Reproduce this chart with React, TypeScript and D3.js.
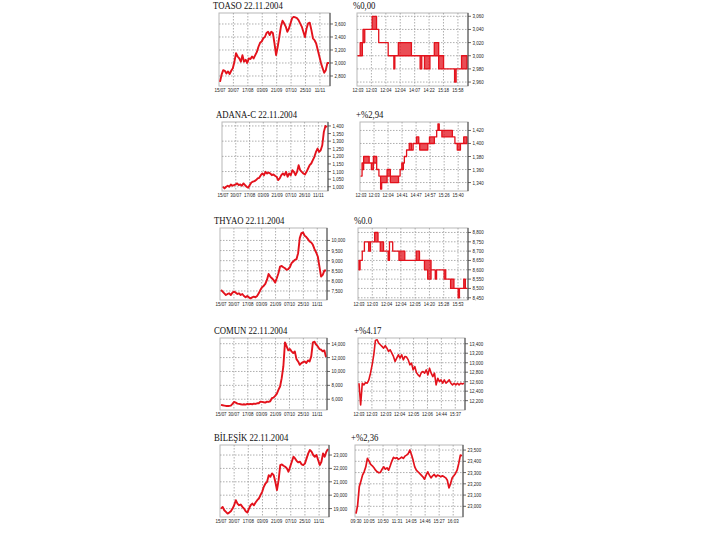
import React from 'react';
import * as d3 from 'd3';

// ---------- labels ----------
const dailyLabels = ['15/07', '30/07', '17/08', '03/09', '21/09', '07/10', '25/10', '11/11'];
const adanaDailyLabels = ['15/07', '30/07', '17/08', '03/09', '21/09', '07/10', '26/10', '11/11'];

// ---------- TOASO ----------
const toasoTitle = 'TOASO 22.11.2004';
const toasoChange = '%0,00';
const toasoDaily = [2710, 2820, 2890, 2880, 2840, 2870, 2830, 2880, 2920, 3020, 3150, 3100, 3070, 3020, 3120, 3020, 3050, 3000, 3070, 3060, 3100, 3070, 3120, 3170, 3250, 3310, 3330, 3380, 3400, 3460, 3480, 3430, 3480, 3460, 3300, 3120, 3250, 3400, 3560, 3650, 3610, 3560, 3480, 3530, 3610, 3690, 3710, 3700, 3690, 3660, 3610, 3560, 3480, 3400, 3530, 3610, 3620, 3510, 3380, 3350, 3300, 3200, 3100, 3000, 2920, 2850, 2890, 3000, 3000];
const toasoDailyTicks = [2800, 3000, 3200, 3400, 3600];
const toasoTimes = ['12:03', '12:03', '12:04', '12:04', '14:07', '14:22', '15:18', '15:58'];
const toasoT = [0, 2, 4, 4.6, 6.2, 13, 17, 19, 27.7, 32.9, 33.8, 37, 49, 57, 58.5, 61, 66, 70, 74, 78.5, 88.6, 90, 95, 100];
const toasoLo = [3000, 3000, 3020, 3020, 3040, 3040, 3040, 3020, 3000, 2980, 3000, 3000, 3000, 2980, 3000, 2980, 3000, 3000, 2980, 2980, 2960, 2980, 2980, 2980];
const toasoHi = [3000, 3020, 3020, 3040, 3040, 3060, 3040, 3020, 3000, 3000, 3000, 3020, 3000, 3000, 3000, 3000, 3000, 3020, 3000, 2980, 2980, 2980, 3000, 3000];
const toasoIntraTicks = [2960, 2980, 3000, 3020, 3040, 3060];

// ---------- ADANA-C ----------
const adanaTitle = 'ADANA-C 22.11.2004';
const adanaChange = '+%2,94';
const adanaDaily = [1000, 989, 1000, 1007, 1000, 1015, 1007, 1011, 1015, 1022, 1011, 1015, 1007, 1022, 1011, 1000, 993, 1011, 1028, 1033, 1037, 1044, 1055, 1059, 1076, 1087, 1076, 1098, 1087, 1094, 1087, 1076, 1081, 1072, 1066, 1044, 1055, 1076, 1087, 1076, 1098, 1066, 1087, 1076, 1109, 1098, 1076, 1098, 1142, 1109, 1098, 1087, 1081, 1098, 1120, 1142, 1153, 1175, 1197, 1229, 1251, 1229, 1240, 1273, 1361, 1400, 1393];
const adanaDailyTicks = [1000, 1050, 1100, 1150, 1200, 1250, 1300, 1350, 1400];
const adanaDailyGrid = [1000, 1100, 1200, 1300, 1400];
const adanaTimes = ['12:03', '12:03', '12:04', '14:41', '14:47', '14:57', '15:26', '15:40'];
const adanaT = [0, 1, 2.5, 7.7, 9.8, 11.7, 14.8, 16.9, 18.5, 19.5, 24.6, 27.7, 35.4, 36.9, 38.5, 40, 40.9, 43, 45.5, 47.7, 49.2, 52.3, 54.5, 55.4, 63, 64.6, 69.2, 71.4, 72.6, 73.8, 76.3, 86.2, 88.6, 90.8, 93.8, 96.9, 100];
const adanaLo = [1350, 1360, 1370, 1370, 1360, 1370, 1360, 1350, 1330, 1340, 1350, 1340, 1350, 1360, 1360, 1370, 1380, 1390, 1390, 1390, 1400, 1400, 1400, 1390, 1400, 1400, 1410, 1420, 1420, 1420, 1410, 1410, 1400, 1390, 1400, 1400, 1400];
const adanaHi = [1350, 1370, 1380, 1370, 1370, 1380, 1360, 1350, 1350, 1350, 1360, 1350, 1350, 1360, 1370, 1370, 1380, 1390, 1400, 1390, 1400, 1410, 1400, 1400, 1400, 1410, 1410, 1420, 1430, 1420, 1420, 1410, 1400, 1400, 1400, 1410, 1410];
const adanaIntraTicks = [1340, 1360, 1380, 1400, 1420];

// ---------- THYAO ----------
const thyaoTitle = 'THYAO 22.11.2004';
const thyaoChange = '%0.0';
const thyaoDaily = [7549, 7466, 7384, 7301, 7350, 7384, 7301, 7417, 7466, 7417, 7350, 7384, 7301, 7350, 7251, 7185, 7251, 7185, 7135, 7185, 7218, 7185, 7251, 7384, 7549, 7682, 7748, 7847, 8046, 8344, 8212, 8129, 8046, 7913, 8129, 8377, 8708, 8741, 8675, 8626, 8543, 8576, 8675, 8874, 8957, 9040, 9073, 9371, 10116, 10364, 10397, 10232, 10166, 10066, 9950, 9901, 9785, 9569, 9404, 9205, 8708, 8212, 8294, 8510, 8510];
const thyaoDailyTicks = [7500, 8000, 8500, 9000, 9500, 10000];
const thyaoTimes = ['12:03', '12:03', '12:04', '12:04', '12:05', '14:20', '15:28', '15:53'];
const thyaoT = [0, 1, 3, 5, 9, 10.6, 14.5, 17.6, 19.7, 22.7, 27, 28.2, 31.2, 37, 42.4, 53, 56, 60.6, 63.6, 66.7, 70.6, 71.8, 78.8, 80.3, 84.8, 87.9, 91.8, 93, 97, 98.5, 100];
const thyaoLo = [8600, 8650, 8700, 8750, 8700, 8750, 8750, 8750, 8700, 8700, 8650, 8750, 8700, 8650, 8650, 8650, 8650, 8600, 8550, 8600, 8550, 8600, 8550, 8550, 8500, 8500, 8450, 8500, 8500, 8500, 8500];
const thyaoHi = [8650, 8650, 8700, 8750, 8750, 8750, 8800, 8750, 8750, 8700, 8700, 8750, 8700, 8700, 8650, 8700, 8650, 8650, 8650, 8600, 8550, 8600, 8600, 8550, 8550, 8500, 8500, 8500, 8550, 8500, 8500];
const thyaoIntraTicks = [8450, 8500, 8550, 8600, 8650, 8700, 8750, 8800];

// ---------- COMUN ----------
const comunTitle = 'COMUN 22.11.2004';
const comunChange = '+%4.17';
const comunDaily = [5179, 5131, 5083, 5035, 5035, 5035, 5083, 5324, 5613, 5517, 5372, 5324, 5276, 5228, 5276, 5228, 5324, 5276, 5324, 5276, 5372, 5324, 5420, 5420, 5661, 5613, 5565, 5517, 5661, 5613, 5710, 6143, 6240, 6480, 6770, 7348, 7830, 9035, 10722, 14193, 13614, 13036, 13229, 12891, 12650, 12891, 11783, 11445, 10963, 11204, 11349, 11445, 11204, 11590, 11445, 12168, 14193, 14290, 13855, 13614, 13229, 13132, 12891, 13036, 12072];
const comunDailyTicks = [6000, 8000, 10000, 12000, 14000];
const comunTimes = ['12:03', '12:03', '12:03', '12:04', '12:05', '12:06', '14:44', '15:37'];
const comunIntra = [12567, 12108, 12567, 12532, 12581, 12567, 12638, 12779, 12955, 13167, 13471, 13485, 13414, 13379, 13344, 13308, 13358, 13308, 13238, 13273, 13202, 13132, 13026, 13096, 13167, 13096, 13167, 13061, 13132, 13118, 13061, 12955, 12991, 12849, 12920, 12793, 12743, 12708, 12793, 12814, 12779, 12849, 12743, 12885, 12779, 12708, 12779, 12532, 12673, 12602, 12638, 12567, 12638, 12567, 12602, 12638, 12567, 12532, 12567, 12532, 12567, 12532, 12567, 12553, 12567];
const comunIntraTicks = [12200, 12400, 12600, 12800, 13000, 13200, 13400];

// ---------- BİLEŞİK ----------
const bilesikTitle = 'BİLEŞİK 22.11.2004';
const bilesikChange = '+%2,36';
const bilesikDaily = [19000, 19125, 18875, 18750, 18625, 18700, 18800, 19000, 19250, 19625, 19375, 19250, 19300, 19125, 19000, 18800, 18700, 19000, 19250, 19375, 19250, 19450, 19625, 19750, 20000, 20250, 20625, 20875, 21000, 21500, 21375, 21625, 21500, 21000, 20375, 21125, 22250, 22300, 22200, 22125, 22000, 21750, 22125, 22500, 22875, 22750, 22550, 22450, 22500, 22300, 22250, 22375, 22750, 23125, 23375, 23250, 23000, 22875, 23000, 22625, 22250, 22500, 23125, 22875, 23250, 23450];
const bilesikDailyTicks = [19000, 20000, 21000, 22000, 23000];
const bilesikTimes = ['09:30', '10:05', '10:50', '11:31', '14:05', '14:46', '15:27', '16:03'];
const bilesikIntra = [22935, 23009, 23173, 23223, 23277, 23307, 23351, 23426, 23402, 23372, 23360, 23342, 23321, 23307, 23298, 23301, 23330, 23351, 23330, 23342, 23321, 23360, 23402, 23435, 23426, 23432, 23417, 23426, 23438, 23426, 23446, 23455, 23467, 23500, 23461, 23411, 23351, 23321, 23307, 23292, 23277, 23262, 23241, 23277, 23307, 23277, 23253, 23271, 23283, 23262, 23277, 23271, 23262, 23271, 23262, 23253, 23232, 23164, 23202, 23253, 23271, 23292, 23321, 23381, 23455, 23449];
const bilesikIntraTicks = [23000, 23100, 23200, 23300, 23400, 23500];

// ---------- rendering ----------
const RED = '#e3121c';
const fmt = d3.format(',');

type Series =
  | { kind: 'line'; values: number[]; width: number }
  | { kind: 'band'; t: number[]; lo: number[]; hi: number[] };

interface PanelSpec {
  id: string;
  x0: number; x1: number; y0: number; y1: number;
  domain: [number, number];
  ticks: number[];
  grid: number[];
  labels: string[];
  series: Series;
}

function Panel({ spec }: { spec: PanelSpec }) {
  const { x0, x1, y0, y1 } = spec;
  const w = x1 - x0;
  const y = d3.scaleLinear().domain(spec.domain).range([y1, y0]);
  const step = w / 7.7;
  let d = '';
  let isBand = false;
  if (spec.series.kind === 'line') {
    const vals = spec.series.values;
    const x = d3.scaleLinear().domain([0, vals.length - 1]).range([x0 + 1, x1 - 1]);
    d = d3.line<number>().x((_, i) => x(i)).y((v) => y(v))(vals) || '';
  } else {
    isBand = true;
    const { t, lo, hi } = spec.series;
    const x = d3.scaleLinear().domain([0, 100]).range([x0 + 1, x1 - 1]);
    d = d3.area<number>()
      .x((i) => x(t[i]))
      .y0((i) => y(lo[i]))
      .y1((i) => y(hi[i]))
      .curve(d3.curveStepAfter)(d3.range(t.length)) || '';
  }
  const vgrid = d3.range(1, 8).map((i) => x0 + i * step);
  const labelX = spec.labels.map((_, i) => (i === 0 ? x0 + 1 : x0 + i * step));
  return (
    <g>
      <defs>
        <clipPath id={spec.id}>
          <rect x={x0} y={y0 - 1} width={w} height={y1 - y0 + 2} />
        </clipPath>
      </defs>
      <rect x={x0} y={y0} width={w} height={y1 - y0} fill="#fff" stroke="#b8b8b8" strokeWidth={1} />
      {spec.grid.map((v) => (
        <line key={'h' + v} x1={x0} x2={x1} y1={y(v)} y2={y(v)} stroke="#9a9a9a" strokeWidth={0.8} strokeDasharray="1.5,1.5" />
      ))}
      {vgrid.map((gx, i) => (
        <line key={'v' + i} x1={gx} x2={gx} y1={y0} y2={y1} stroke="#9a9a9a" strokeWidth={0.8} strokeDasharray="1.5,1.5" />
      ))}
      <path
        d={d}
        clipPath={`url(#${spec.id})`}
        fill={isBand ? RED : 'none'}
        fillOpacity={isBand ? 0.75 : 0}
        stroke={RED}
        strokeWidth={isBand ? 1.3 : spec.series.kind === 'line' ? spec.series.width : 1.5}
        strokeLinejoin="round"
      />
      <line x1={x1} x2={x1} y1={y0} y2={y1} stroke="#444" strokeWidth={1} />
      {spec.ticks.map((v) => (
        <g key={'t' + v}>
          <line x1={x1} x2={x1 + 3} y1={y(v)} y2={y(v)} stroke="#444" strokeWidth={0.8} />
          <text
            transform={`translate(${x1 + 4.5},${y(v) + 2}) scale(0.8,1)`}
            fontFamily="'Liberation Sans', Arial, sans-serif"
            fontSize={5.6}
            fill="#222"
          >
            {fmt(v)}
          </text>
        </g>
      ))}
      {spec.labels.map((lab, i) => (
        <text
          key={'x' + i}
          transform={`translate(${labelX[i]},${y1 + 5.5}) scale(0.8,1)`}
          textAnchor="middle"
          fontFamily="'Liberation Sans', Arial, sans-serif"
          fontSize={5.6}
          fill="#222"
        >
          {lab}
        </text>
      ))}
    </g>
  );
}

function Title({ x, y, text }: { x: number; y: number; text: string }) {
  return (
    <text
      transform={`translate(${x},${y}) scale(0.87,1)`}
      fontFamily="'Liberation Serif', 'Times New Roman', serif"
      fontSize={10}
      fill="#111"
    >
      {text}
    </text>
  );
}

interface RowSpec {
  top: number; bottom: number;
  L: [number, number]; R: [number, number];
  title: string; change: string;
  left: Omit<PanelSpec, 'x0' | 'x1' | 'y0' | 'y1'>;
  right: Omit<PanelSpec, 'x0' | 'x1' | 'y0' | 'y1'>;
}

const rows: RowSpec[] = [
  {
    top: 13, bottom: 86, L: [219, 330], R: [357, 468], title: toasoTitle, change: toasoChange,
    left: { id: 'c1l', domain: [2646, 3769], ticks: toasoDailyTicks, grid: toasoDailyTicks, labels: dailyLabels, series: { kind: 'line', values: toasoDaily, width: 1.9 } },
    right: { id: 'c1r', domain: [2954, 3065], ticks: toasoIntraTicks, grid: toasoIntraTicks, labels: toasoTimes, series: { kind: 'band', t: toasoT, lo: toasoLo, hi: toasoHi } },
  },
  {
    top: 122, bottom: 191, L: [222, 328], R: [360, 468], title: adanaTitle, change: adanaChange,
    left: { id: 'c2l', domain: [972, 1426], ticks: adanaDailyTicks, grid: adanaDailyGrid, labels: adanaDailyLabels, series: { kind: 'line', values: adanaDaily, width: 1.9 } },
    right: { id: 'c2r', domain: [1327, 1433], ticks: adanaIntraTicks, grid: adanaIntraTicks, labels: adanaTimes, series: { kind: 'band', t: adanaT, lo: adanaLo, hi: adanaHi } },
  },
  {
    top: 228, bottom: 300, L: [220, 327], R: [358, 468], title: thyaoTitle, change: thyaoChange,
    left: { id: 'c3l', domain: [7053, 10616], ticks: thyaoDailyTicks, grid: thyaoDailyTicks, labels: dailyLabels, series: { kind: 'line', values: thyaoDaily, width: 1.9 } },
    right: { id: 'c3r', domain: [8438, 8824], ticks: thyaoIntraTicks, grid: thyaoIntraTicks, labels: thyaoTimes, series: { kind: 'band', t: thyaoT, lo: thyaoLo, hi: thyaoHi } },
  },
  {
    top: 338, bottom: 410, L: [220, 327], R: [358, 465], title: comunTitle, change: comunChange,
    left: { id: 'c4l', domain: [4450, 14820], ticks: comunDailyTicks, grid: comunDailyTicks, labels: dailyLabels, series: { kind: 'line', values: comunDaily, width: 1.9 } },
    right: { id: 'c4r', domain: [12003, 13521], ticks: comunIntraTicks, grid: comunIntraTicks, labels: comunTimes, series: { kind: 'line', values: comunIntra, width: 1.6 } },
  },
  {
    top: 445, bottom: 517, L: [220, 329], R: [355, 463], title: bilesikTitle, change: bilesikChange,
    left: { id: 'c5l', domain: [18370, 23750], ticks: bilesikDailyTicks, grid: bilesikDailyTicks, labels: dailyLabels, series: { kind: 'line', values: bilesikDaily, width: 1.9 } },
    right: { id: 'c5r', domain: [22905, 23545], ticks: bilesikIntraTicks, grid: bilesikIntraTicks, labels: bilesikTimes, series: { kind: 'line', values: bilesikIntra, width: 1.7 } },
  },
];

export default function App() {
  return (
    <svg
      width={720}
      height={540}
      viewBox="0 0 720 540"
      style={{ position: 'absolute', left: 0, top: 0, background: '#fff' }}
    >
      <rect x={0} y={0} width={720} height={540} fill="#fff" />
      {rows.map((r, i) => (
        <g key={i}>
          <Title x={r.L[0] - 6} y={r.top - 4} text={r.title} />
          <Title x={r.R[0] - 4} y={r.top - 4} text={r.change} />
          <Panel spec={{ ...r.left, x0: r.L[0], x1: r.L[1], y0: r.top, y1: r.bottom }} />
          <Panel spec={{ ...r.right, x0: r.R[0], x1: r.R[1], y0: r.top, y1: r.bottom }} />
        </g>
      ))}
    </svg>
  );
}
